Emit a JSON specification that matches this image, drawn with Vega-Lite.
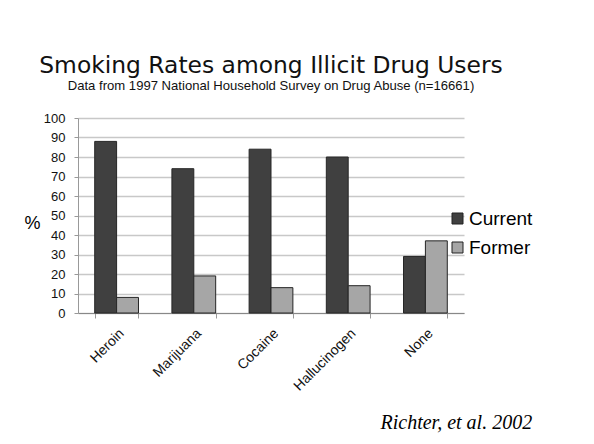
{
  "$schema": "https://vega.github.io/schema/vega-lite/v6.json",
  "autosize": "none",
  "width": 386,
  "height": 195,
  "padding": {"left": 78, "top": 118, "right": 130, "bottom": 131},
  "background": "white",
  "title": {
    "text": "Smoking Rates among Illicit Drug Users",
    "subtitle": "Data from 1997 National Household Survey on Drug Abuse (n=16661)",
    "anchor": "middle",
    "font": "DejaVu Sans",
    "fontSize": 23.4,
    "fontWeight": "normal",
    "color": "#111",
    "subtitleFont": "Liberation Sans",
    "subtitleFontSize": 13.1,
    "subtitleColor": "#111",
    "subtitlePadding": 2,
    "offset": 18
  },
  "data": {
    "values": [
      {"drug": "Heroin", "status": "Current", "pct": 88},
      {"drug": "Heroin", "status": "Former", "pct": 8},
      {"drug": "Marijuana", "status": "Current", "pct": 74},
      {"drug": "Marijuana", "status": "Former", "pct": 19},
      {"drug": "Cocaine", "status": "Current", "pct": 84},
      {"drug": "Cocaine", "status": "Former", "pct": 13},
      {"drug": "Hallucinogen", "status": "Current", "pct": 80},
      {"drug": "Hallucinogen", "status": "Former", "pct": 14},
      {"drug": "None", "status": "Current", "pct": 29},
      {"drug": "None", "status": "Former", "pct": 37}
    ]
  },
  "mark": {"type": "bar", "stroke": "#262626", "strokeWidth": 1},
  "encoding": {
    "x": {
      "field": "drug",
      "type": "nominal",
      "sort": ["Heroin", "Marijuana", "Cocaine", "Hallucinogen", "None"],
      "scale": {"paddingInner": 0.433, "paddingOuter": 0.2165},
      "axis": {
        "title": "Richter,  et al. 2002",
        "titleFont": "Liberation Serif",
        "titleFontStyle": "italic",
        "titleFontWeight": "normal",
        "titleFontSize": 20,
        "titleColor": "#000",
        "titleAlign": "left",
        "titleAnchor": "start",
        "titleBaseline": "alphabetic",
        "titleX": 302,
        "titleY": 115,
        "labelAngle": -45,
        "labelFont": "Liberation Sans",
        "labelFontSize": 14,
        "labelColor": "#111",
        "tickBand": "extent",
        "labelPadding": 8,
        "tickSize": 5,
        "tickColor": "#999",
        "domainColor": "#888",
        "grid": false
      }
    },
    "xOffset": {"field": "status", "type": "nominal", "sort": ["Current", "Former"]},
    "y": {
      "field": "pct",
      "type": "quantitative",
      "scale": {"domain": [0, 100], "nice": false},
      "axis": {
        "values": [0, 10, 20, 30, 40, 50, 60, 70, 80, 90, 100],
        "title": "%",
        "titleAngle": 0,
        "titleFont": "Liberation Sans",
        "titleFontSize": 18,
        "titleFontWeight": "normal",
        "titleColor": "#000",
        "titleAlign": "center",
        "titleBaseline": "middle",
        "titleX": -46,
        "titleY": 105,
        "labelFont": "Liberation Sans",
        "labelFontSize": 13,
        "labelColor": "#111",
        "labelPadding": 9,
        "tickSize": 4,
        "tickColor": "#999",
        "domainColor": "#999",
        "gridColor": "#c8c8c8",
        "gridWidth": 1.3
      }
    },
    "fill": {
      "field": "status",
      "type": "nominal",
      "scale": {"domain": ["Current", "Former"], "range": ["#404040", "#a6a6a6"]},
      "legend": {
        "orient": "none",
        "legendX": 370,
        "legendY": 91,
        "title": null,
        "direction": "vertical",
        "symbolType": "square",
        "symbolSize": 121,
        "symbolStrokeColor": "#222",
        "symbolStrokeWidth": 1,
        "labelFont": "Liberation Sans",
        "labelFontSize": 19,
        "labelColor": "#000",
        "labelOffset": 2,
        "rowPadding": 9,
        "padding": 0
      }
    }
  },
  "config": {
    "view": {"stroke": null}
  }
}
